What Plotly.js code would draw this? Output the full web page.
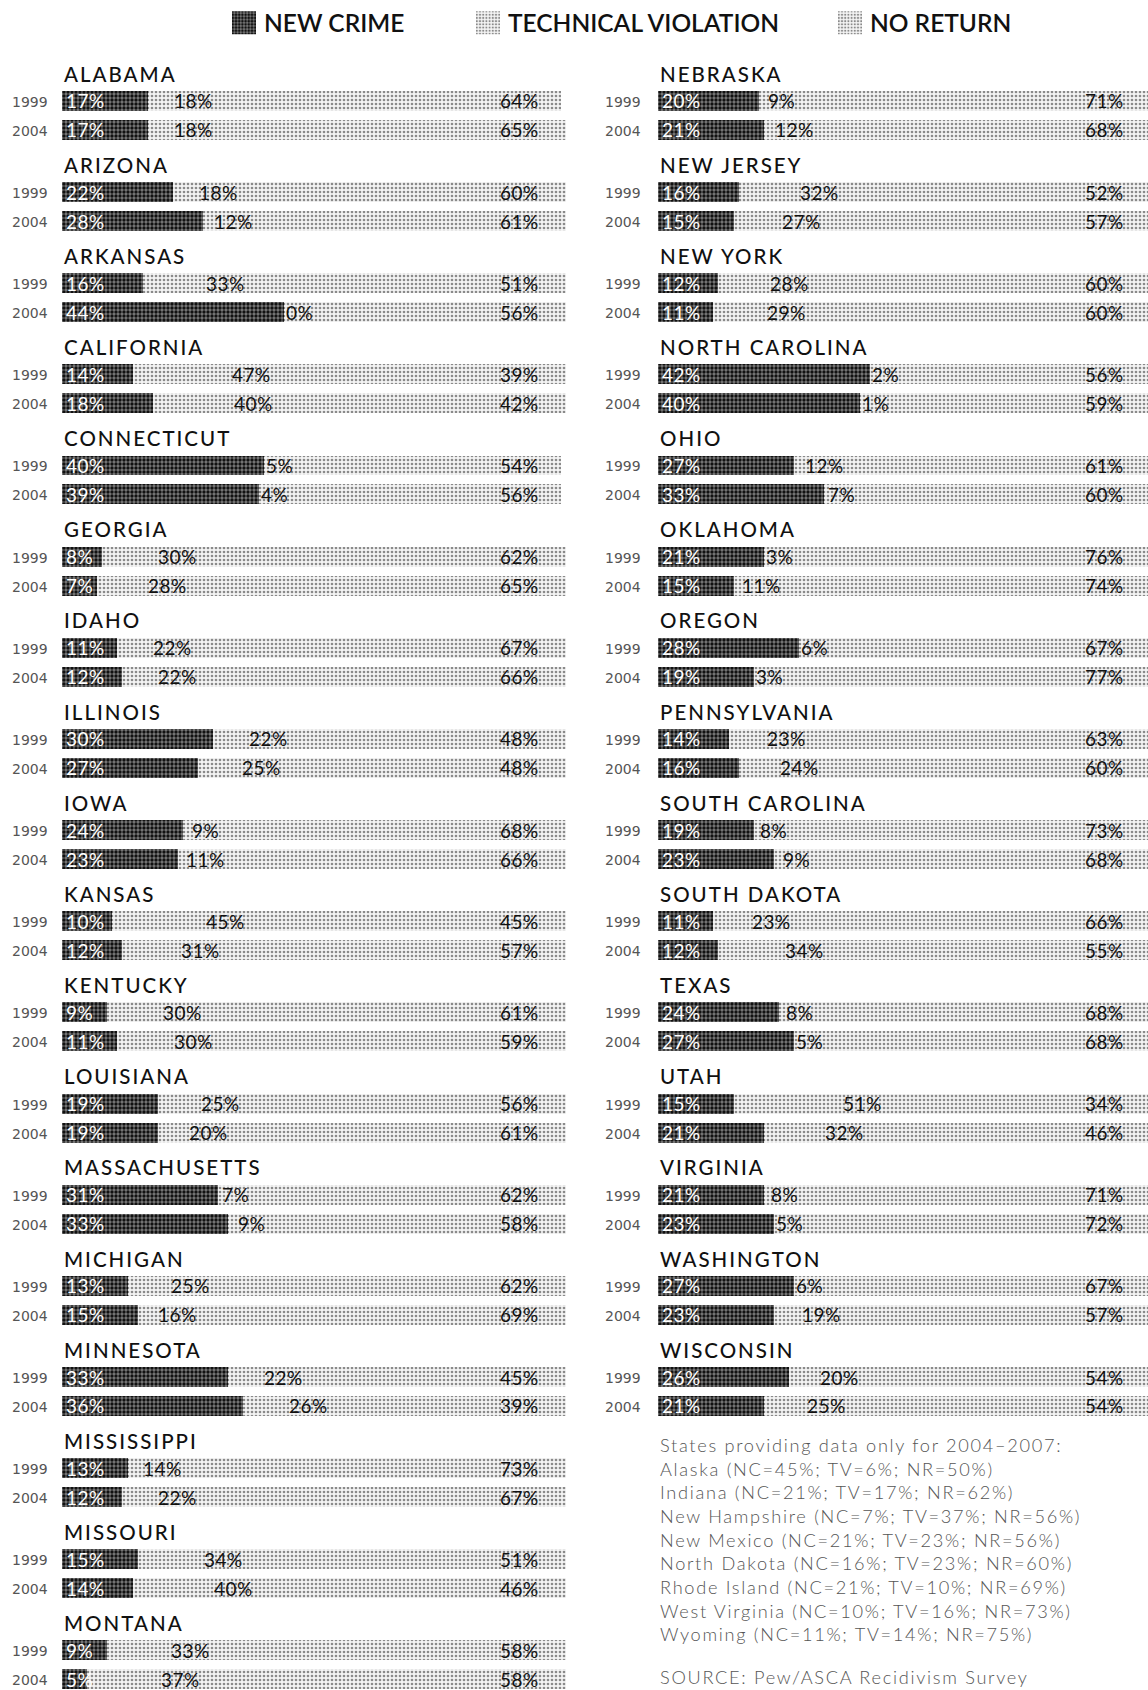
<!DOCTYPE html>
<html>
<head>
<meta charset="utf-8">
<script src="https://cdn.plot.ly/plotly-3.0.1.min.js"></script>
<style>
  html, body { margin: 0; padding: 0; background: #fff; }
  #chart { width: 1148px; height: 1690px; }
</style>
</head>
<body>
<div id="chart"></div>
<script>
// ---------- DATA ----------
const categories = ['NEW CRIME', 'TECHNICAL VIOLATION', 'NO RETURN'];
const years = ['1999', '2004'];
const states = [
  'ALABAMA', 'ARIZONA', 'ARKANSAS', 'CALIFORNIA', 'CONNECTICUT', 'GEORGIA', 'IDAHO', 'ILLINOIS', 'IOWA',
  'KANSAS', 'KENTUCKY', 'LOUISIANA', 'MASSACHUSETTS', 'MICHIGAN', 'MINNESOTA', 'MISSISSIPPI', 'MISSOURI', 'MONTANA',
  'NEBRASKA', 'NEW JERSEY', 'NEW YORK', 'NORTH CAROLINA', 'OHIO', 'OKLAHOMA', 'OREGON', 'PENNSYLVANIA',
  'SOUTH CAROLINA', 'SOUTH DAKOTA', 'TEXAS', 'UTAH', 'VIRGINIA', 'WASHINGTON', 'WISCONSIN'
];
const leftColumnCount = 18;
const newCrime1999 = [17, 22, 16, 14, 40, 8, 11, 30, 24, 10, 9, 19, 31, 13, 33, 13, 15, 9,
                      20, 16, 12, 42, 27, 21, 28, 14, 19, 11, 24, 15, 21, 27, 26];
const techViol1999 = [18, 18, 33, 47, 5, 30, 22, 22, 9, 45, 30, 25, 7, 25, 22, 14, 34, 33,
                      9, 32, 28, 2, 12, 3, 6, 23, 8, 23, 8, 51, 8, 6, 20];
const noReturn1999 = [64, 60, 51, 39, 54, 62, 67, 48, 68, 45, 61, 56, 62, 62, 45, 73, 51, 58,
                      71, 52, 60, 56, 61, 76, 67, 63, 73, 66, 68, 34, 71, 67, 54];
const newCrime2004 = [17, 28, 44, 18, 39, 7, 12, 27, 23, 12, 11, 19, 33, 15, 36, 12, 14, 5,
                      21, 15, 11, 40, 33, 15, 19, 16, 23, 12, 27, 21, 23, 23, 21];
const techViol2004 = [18, 12, 0, 40, 4, 28, 22, 25, 11, 31, 30, 20, 9, 16, 26, 22, 40, 37,
                      12, 27, 29, 1, 7, 11, 3, 24, 9, 34, 5, 32, 5, 19, 25];
const noReturn2004 = [65, 61, 56, 42, 56, 65, 66, 48, 66, 57, 59, 61, 58, 69, 39, 67, 46, 58,
                      68, 57, 60, 59, 60, 74, 77, 60, 68, 55, 68, 46, 72, 57, 54];
const noteTitle = 'States providing data only for 2004–2007:';
const noteLines = [
  'Alaska (NC=45%; TV=6%; NR=50%)',
  'Indiana (NC=21%; TV=17%; NR=62%)',
  'New Hampshire (NC=7%; TV=37%; NR=56%)',
  'New Mexico (NC=21%; TV=23%; NR=56%)',
  'North Dakota (NC=16%; TV=23%; NR=60%)',
  'Rhode Island (NC=21%; TV=10%; NR=69%)',
  'West Virginia (NC=10%; TV=16%; NR=73%)',
  'Wyoming (NC=11%; TV=14%; NR=75%)'
];
const sourceText = 'SOURCE: Pew/ASCA Recidivism Survey';

// ---------- LAYOUT GEOMETRY ----------
const W = 1148, H = 1690;
const rowPx = 91.26;
const firstBarPx = 99;
const yearOffset = 29 / rowPx;
const barWidth = 20 / rowPx;
const pxPerPct = 5.04;
const colLeftPx = [62, 658];
const FONT = 'Lato, "Open Sans", sans-serif';
const PCT_SIZE = 19;

const valuesByYear = [
  [newCrime1999, techViol1999, noReturn1999],
  [newCrime2004, techViol2004, noReturn2004]
];

function colOf(i) { return i < leftColumnCount ? 0 : 1; }
function rowOf(i) { return i < leftColumnCount ? i : i - leftColumnCount; }

const lightStyle = { color: '#d6d6d6', pattern: { shape: '.', fgcolor: '#8a8a8a', bgcolor: '#f4f4f4', size: 4, solidity: 0.35 } };
const catStyles = [
  { color: '#444', pattern: { shape: '.', fgcolor: '#111111', bgcolor: '#7c7c7c', size: 4, solidity: 0.55 } },
  lightStyle,
  lightStyle
];
const legendIds = ['legend', 'legend2', 'legend3'];

const traces = [];
for (let c = 0; c < 2; c++) {
  for (let k = 0; k < 3; k++) {
    const xs = [], ys = [];
    states.forEach((s, i) => {
      if (colOf(i) !== c) return;
      for (let j = 0; j < 2; j++) {
        xs.push(valuesByYear[j][k][i]);
        ys.push(rowOf(i) + j * yearOffset);
      }
    });
    traces.push({
      type: 'bar', orientation: 'h', x: xs, y: ys, name: categories[k],
      width: barWidth,
      xaxis: c === 0 ? 'x' : 'x2', yaxis: 'y',
      marker: Object.assign({ line: { width: 0 } }, JSON.parse(JSON.stringify(catStyles[k]))),
      showlegend: c === 0, legend: legendIds[k],
      hoverinfo: 'skip'
    });
  }
}

// ---------- ANNOTATIONS ----------
const annotations = [];
function pctWidth(str) { // estimated rendered width of a label, in px
  return (str.length - 1) * (0.58 * PCT_SIZE + 0.5) + 0.8 * PCT_SIZE;
}
function spaced(t, px) { return '<span style="letter-spacing:' + px + 'px">' + t + '</span>'; }

states.forEach((s, i) => {
  const c = colOf(i), r = rowOf(i);
  const xref = c === 0 ? 'x' : 'x2';
  annotations.push({
    xref, yref: 'y', x: 0, y: r - 0.3, xanchor: 'left', yanchor: 'middle',
    text: spaced(s, 2), showarrow: false,
    font: { family: FONT, size: 20.5, color: '#111', weight: 500 }
  });
  for (let j = 0; j < 2; j++) {
    const y = r + j * yearOffset;
    const nc = valuesByYear[j][0][i], tv = valuesByYear[j][1][i], nr = valuesByYear[j][2][i];
    annotations.push({
      xref, yref: 'y', x: 0, y, xanchor: 'right', yanchor: 'middle', xshift: c === 0 ? -12 : -15, yshift: -1,
      text: years[j], showarrow: false,
      font: { family: '"DejaVu Sans", sans-serif', size: 14, color: '#555' }
    });
    annotations.push({
      xref, yref: 'y', x: 0, y, xanchor: 'left', yanchor: 'middle', xshift: 2, yshift: 0,
      text: spaced(nc + '%', 0.5), showarrow: false,
      font: { family: FONT, size: PCT_SIZE, color: '#ffffff' }
    });
    const tvText = tv + '%';
    const fits = tv * pxPerPct >= pctWidth(tvText) + 2;
    annotations.push({
      xref, yref: 'y', x: fits ? nc + tv / 2 : nc, y,
      xanchor: fits ? 'center' : 'left', yanchor: 'middle', yshift: 0,
      text: spaced(tvText, 0.5), showarrow: false,
      font: { family: FONT, size: PCT_SIZE, color: '#111' }
    });
    annotations.push({
      xref, yref: 'y', x: c === 0 ? 95.1 : 92.95, y, xanchor: 'right', yanchor: 'middle', yshift: 0,
      text: spaced(nr + '%', 0.5), showarrow: false,
      font: { family: FONT, size: PCT_SIZE, color: '#111' }
    });
  }
});
annotations.push({
  xref: 'paper', yref: 'paper', x: colLeftPx[1] / W, y: 1 - 1432 / H,
  xanchor: 'left', yanchor: 'top', align: 'left', showarrow: false,
  text: [noteTitle].concat(noteLines).map(t => spaced(t, 1.7)).join('<br>'),
  font: { family: FONT, size: 18.2, color: '#555', weight: 300 }
});
annotations.push({
  xref: 'paper', yref: 'paper', x: colLeftPx[1] / W, y: 0,
  xanchor: 'left', yanchor: 'bottom', align: 'left', showarrow: false,
  text: spaced(sourceText, 1.7),
  font: { family: FONT, size: 18.2, color: '#555', weight: 300 }
});

const rangeTop = -firstBarPx / rowPx;
const rangeBottom = (H - firstBarPx) / rowPx;

const legendBase = {
  orientation: 'h', xanchor: 'left', yanchor: 'top', y: 1.001,
  bgcolor: 'rgba(0,0,0,0)', borderwidth: 0,
  font: { family: FONT, size: 24.5, color: '#111', weight: 600 }
};

const layout = {
  width: W, height: H,
  margin: { l: 0, r: 0, t: 0, b: 0, pad: 0 },
  paper_bgcolor: '#fff', plot_bgcolor: '#fff',
  barmode: 'stack',
  bargap: 0,
  xaxis: { domain: [colLeftPx[0] / W, (colLeftPx[0] + 100 * pxPerPct) / W], range: [0, 100], visible: false, fixedrange: true },
  xaxis2: { domain: [colLeftPx[1] / W, 1], range: [0, (W - colLeftPx[1]) / pxPerPct], visible: false, anchor: 'y', fixedrange: true },
  yaxis: { domain: [0, 1], range: [rangeBottom, rangeTop], visible: false, fixedrange: true },
  legend: Object.assign({}, legendBase, { x: 224 / W }),
  legend2: Object.assign({}, legendBase, { x: 468 / W }),
  legend3: Object.assign({}, legendBase, { x: 830 / W }),
  annotations,
  showlegend: true
};

Plotly.newPlot('chart', traces, layout, { staticPlot: true, displayModeBar: false }).then(gd => {
  gd.querySelectorAll('g.legendpoints path').forEach(p => {
    p.setAttribute('d', 'M12,11.5H-12V-11.5H12Z');
  });
});
</script>
</body>
</html>
